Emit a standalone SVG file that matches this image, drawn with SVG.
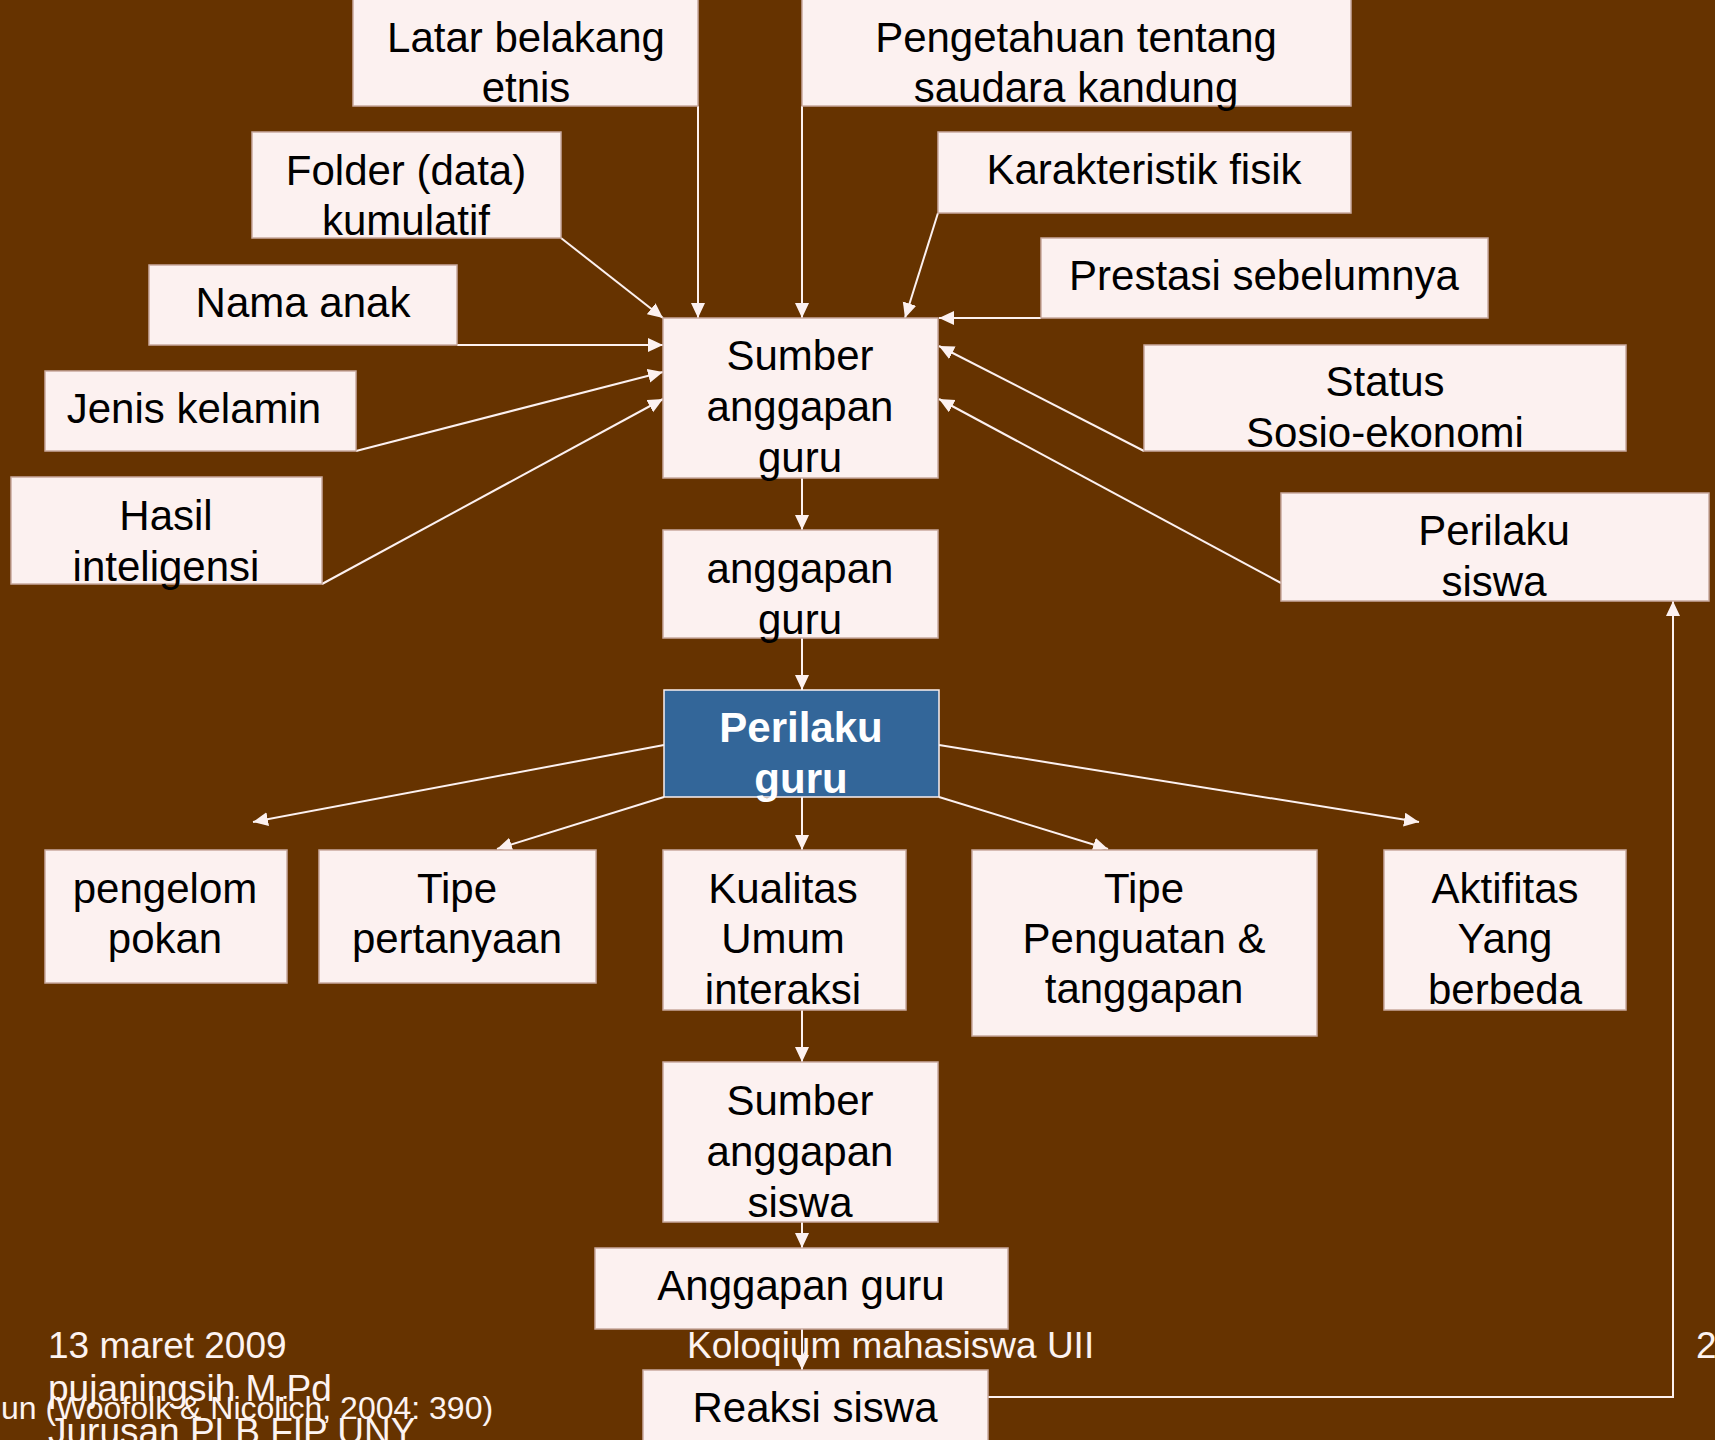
<svg xmlns="http://www.w3.org/2000/svg" width="1715" height="1440" viewBox="0 0 1715 1440">
<defs>
<style>
.box{fill:#FCF1F0;stroke:#C9A99E;stroke-width:1.5}
.blue{fill:#336699;stroke:#FCF1F0;stroke-width:1.5}
.t{font-family:"Liberation Sans",Arial,sans-serif;font-size:42px;fill:#000;text-anchor:middle}
.tb{font-family:"Liberation Sans",Arial,sans-serif;font-size:42px;font-weight:bold;fill:#FFFFFF;text-anchor:middle}
.f{font-family:"Liberation Sans",Arial,sans-serif;font-size:37px;fill:#FDF3F1}
.f2{font-family:"Liberation Sans",Arial,sans-serif;font-size:32px;fill:#FDF3F1}
.c{fill:none;stroke:#FCF1F0;stroke-width:2;marker-end:url(#ah)}
</style>
<marker id="ah" markerUnits="userSpaceOnUse" markerWidth="16" markerHeight="15" refX="15" refY="7" orient="auto">
<path d="M0,0 L15,7 L0,14 z" fill="#FCF1F0"/>
</marker>
</defs>
<rect x="0" y="0" width="1715" height="1440" fill="#663300"/>
<g id="footer">
<text class="f" x="48" y="1358">13 maret 2009</text>
<text class="f" x="48" y="1401">pujaningsih M.Pd</text>
<text class="f" x="48" y="1444">Jurusan PLB FIP UNY</text>
<text class="f2" x="1" y="1419">un (Woofolk &amp; Nicolich, 2004: 390)</text>
<text class="f" x="687" y="1358">Koloqium mahasiswa UII</text>
<text class="f" x="1696" y="1358">2</text>
</g>
<g id="connectors">
<line class="c" x1="698" y1="106" x2="698" y2="318"/>
<line class="c" x1="802" y1="106" x2="802" y2="318"/>
<line class="c" x1="561" y1="238" x2="663" y2="318"/>
<line class="c" x1="457" y1="345" x2="663" y2="345"/>
<line class="c" x1="356" y1="451" x2="663" y2="372"/>
<line class="c" x1="322" y1="584" x2="663" y2="399"/>
<line class="c" x1="938" y1="213" x2="905" y2="318"/>
<line class="c" x1="1041" y1="318" x2="939" y2="318"/>
<line class="c" x1="1144" y1="451" x2="939" y2="346"/>
<line class="c" x1="1281" y1="583" x2="939" y2="399"/>
<line class="c" x1="802" y1="478" x2="802" y2="530"/>
<line class="c" x1="802" y1="638" x2="802" y2="690"/>
<line class="c" x1="664" y1="745" x2="253" y2="822"/>
<line class="c" x1="664" y1="797" x2="497" y2="849"/>
<line class="c" x1="802" y1="797" x2="802" y2="850"/>
<line class="c" x1="939" y1="797" x2="1108" y2="849"/>
<line class="c" x1="939" y1="745" x2="1419" y2="822"/>
<line class="c" x1="802" y1="1010" x2="802" y2="1062"/>
<line class="c" x1="802" y1="1222" x2="802" y2="1248"/>
<line class="c" x1="802" y1="1329" x2="802" y2="1370"/>
<polyline class="c" points="988,1397 1673,1397 1673,601"/>
</g>
<g id="latar"><rect class="box" x="353" y="-2" width="345" height="108"/><text class="t" x="526" y="52">Latar belakang</text><text class="t" x="526" y="102">etnis</text></g>
<g id="pengetahuan"><rect class="box" x="802" y="-2" width="549" height="108"/><text class="t" x="1076" y="52">Pengetahuan tentang</text><text class="t" x="1076" y="102">saudara kandung</text></g>
<g id="folder"><rect class="box" x="252" y="132" width="309" height="106"/><text class="t" x="406" y="185">Folder (data)</text><text class="t" x="406" y="235">kumulatif</text></g>
<g id="karakteristik"><rect class="box" x="938" y="132" width="413" height="81"/><text class="t" x="1144" y="184">Karakteristik fisik</text></g>
<g id="nama"><rect class="box" x="149" y="265" width="308" height="80"/><text class="t" x="303" y="317">Nama anak</text></g>
<g id="prestasi"><rect class="box" x="1041" y="238" width="447" height="80"/><text class="t" x="1264" y="290">Prestasi sebelumnya</text></g>
<g id="jenis"><rect class="box" x="45" y="371" width="311" height="80"/><text class="t" x="194" y="423">Jenis kelamin</text></g>
<g id="sumber-guru"><rect class="box" x="663" y="318" width="275" height="160"/><text class="t" x="800" y="370">Sumber</text><text class="t" x="800" y="421">anggapan</text><text class="t" x="800" y="472">guru</text></g>
<g id="status"><rect class="box" x="1144" y="345" width="482" height="106"/><text class="t" x="1385" y="396">Status</text><text class="t" x="1385" y="447">Sosio-ekonomi</text></g>
<g id="hasil"><rect class="box" x="11" y="477" width="311" height="107"/><text class="t" x="166" y="530">Hasil</text><text class="t" x="166" y="581">inteligensi</text></g>
<g id="perilaku-siswa"><rect class="box" x="1281" y="493" width="428" height="108"/><text class="t" x="1494" y="545">Perilaku</text><text class="t" x="1494" y="596">siswa</text></g>
<g id="anggapan-guru"><rect class="box" x="663" y="530" width="275" height="108"/><text class="t" x="800" y="583">anggapan</text><text class="t" x="800" y="634">guru</text></g>
<g id="perilaku-guru"><rect class="blue" x="664" y="690" width="275" height="107"/><text class="tb" x="801" y="742">Perilaku</text><text class="tb" x="801" y="793">guru</text></g>
<g id="pengelompokan"><rect class="box" x="45" y="850" width="242" height="133"/><text class="t" x="165" y="903">pengelom</text><text class="t" x="165" y="953">pokan</text></g>
<g id="tipe-pertanyaan"><rect class="box" x="319" y="850" width="277" height="133"/><text class="t" x="457" y="903">Tipe</text><text class="t" x="457" y="953">pertanyaan</text></g>
<g id="kualitas"><rect class="box" x="663" y="850" width="243" height="160"/><text class="t" x="783" y="903">Kualitas</text><text class="t" x="783" y="953">Umum</text><text class="t" x="783" y="1004">interaksi</text></g>
<g id="tipe-penguatan"><rect class="box" x="972" y="850" width="345" height="186"/><text class="t" x="1144" y="903">Tipe</text><text class="t" x="1144" y="953">Penguatan &amp;</text><text class="t" x="1144" y="1003">tanggapan</text></g>
<g id="aktifitas"><rect class="box" x="1384" y="850" width="242" height="160"/><text class="t" x="1505" y="903">Aktifitas</text><text class="t" x="1505" y="953">Yang</text><text class="t" x="1505" y="1004">berbeda</text></g>
<g id="sumber-siswa"><rect class="box" x="663" y="1062" width="275" height="160"/><text class="t" x="800" y="1115">Sumber</text><text class="t" x="800" y="1166">anggapan</text><text class="t" x="800" y="1217">siswa</text></g>
<g id="anggapan-guru-2"><rect class="box" x="595" y="1248" width="413" height="81"/><text class="t" x="801" y="1300">Anggapan guru</text></g>
<g id="reaksi"><rect class="box" x="643" y="1370" width="345" height="80"/><text class="t" x="815" y="1422">Reaksi siswa</text></g>
</svg>
